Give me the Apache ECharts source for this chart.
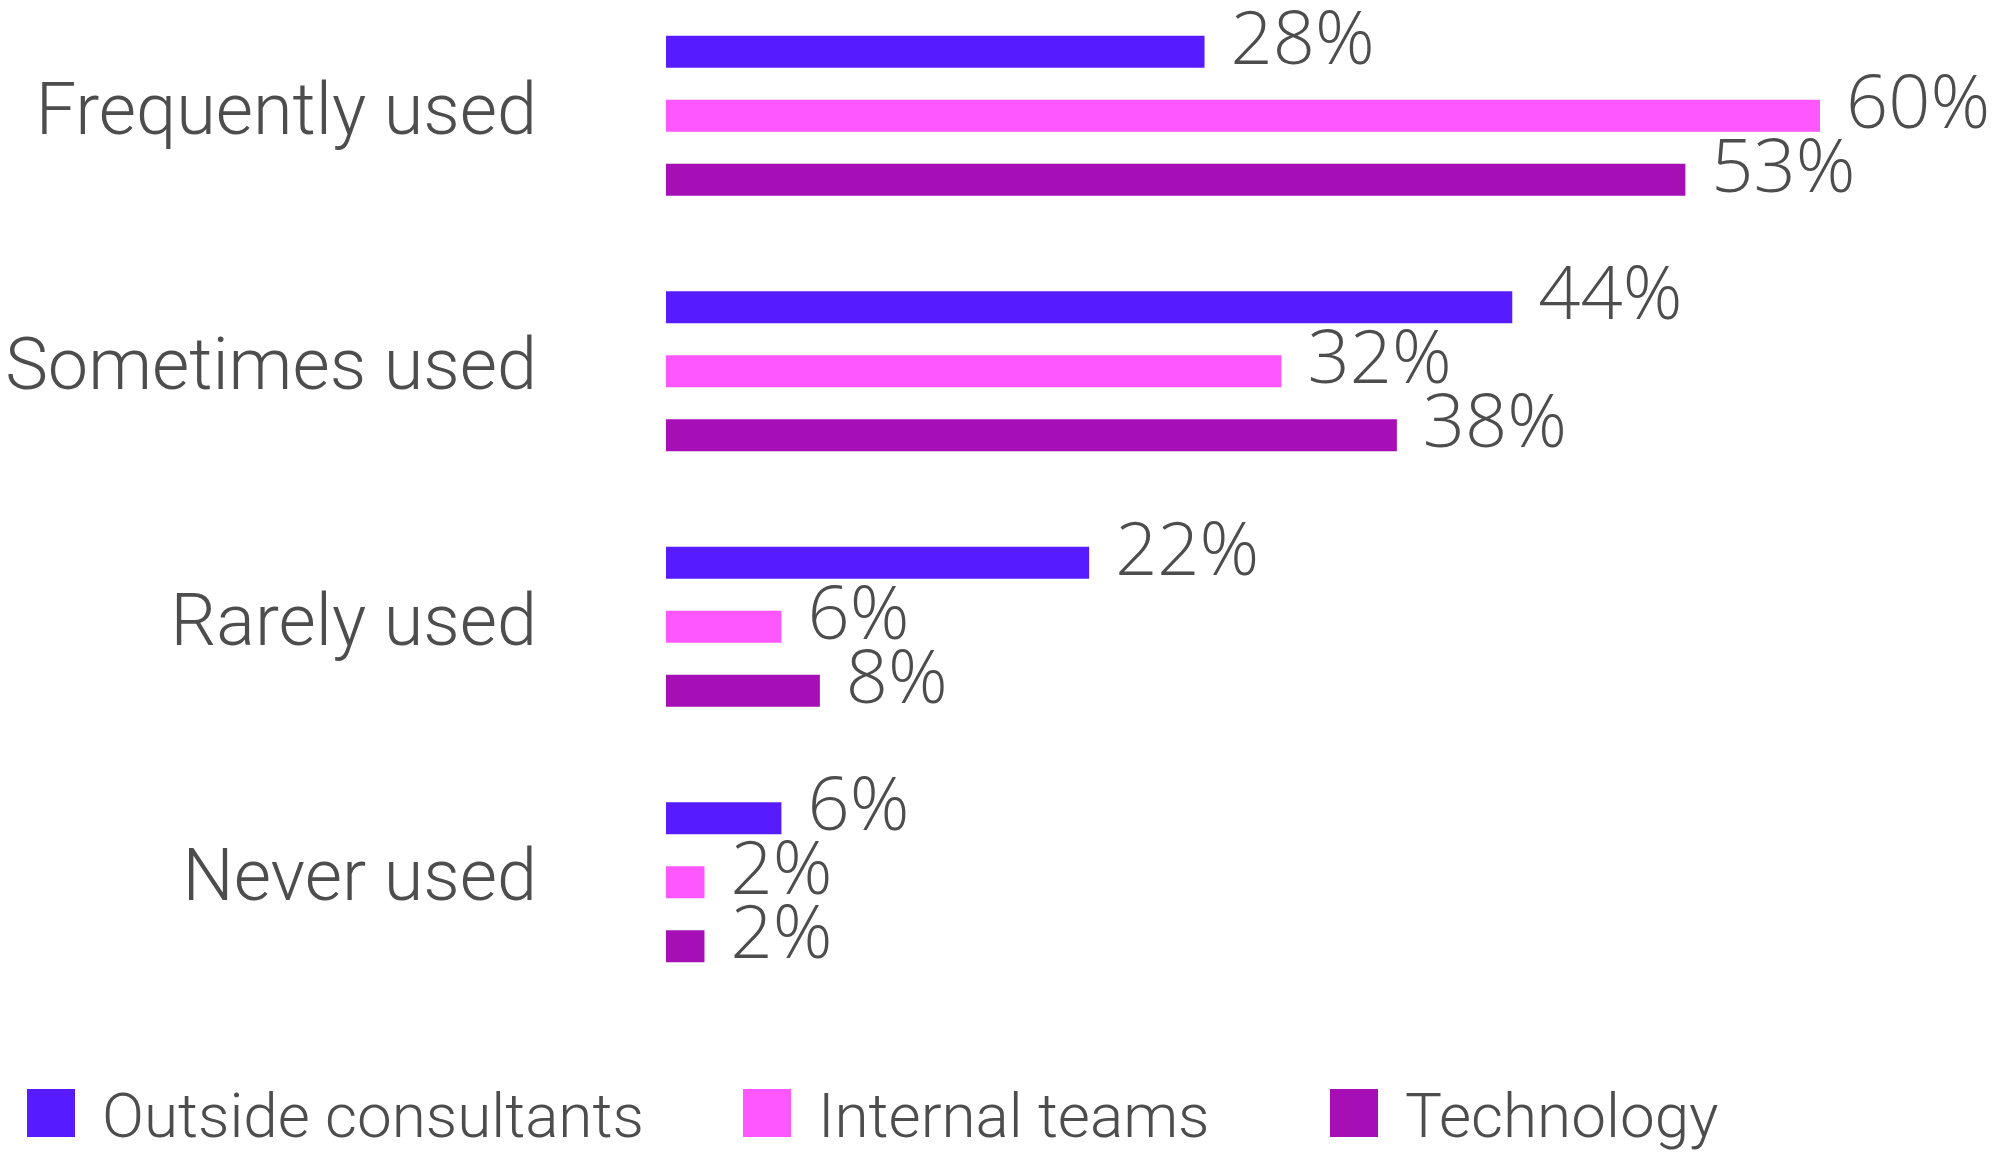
<!DOCTYPE html>
<html>
<head>
<meta charset="utf-8">
<script src="https://cdn.jsdelivr.net/npm/echarts@6/dist/echarts.min.js"></script>
<style>
  html, body { margin: 0; padding: 0; background: #fff; }
  #chart { width: 1998px; height: 1153px; }
</style>
</head>
<body>
<div id="chart"></div>
<script>
var categories = ['Frequently used', 'Sometimes used', 'Rarely used', 'Never used']
var seriesNames = ['Outside consultants', 'Internal teams', 'Technology']
var outsideConsultants = [28, 44, 22, 6]
var internalTeams = [60, 32, 6, 2]
var technology = [53, 38, 8, 2]
var colorList = ['#561cff', '#ff57ff', '#a60fb5']

var textColor = '#4d4d4d'
var fontFamily = 'Roboto'

function barSeries (name, data) {
  return {
    name: name,
    type: 'bar',
    barWidth: 32,
    barGap: '100%',
    data: data,
    label: {
      show: true,
      position: 'right',
      distance: 26,
      offset: [0, -9],
      formatter: '{c}%',
      color: textColor,
      fontFamily: '"Open Sans"',
      fontWeight: 300,
      fontSize: 74
    }
  }
}

function legendAt (name, left) {
  return {
    data: [name],
    left: left,
    top: 1082,
    icon: 'rect',
    itemWidth: 48,
    itemHeight: 48,
    padding: 0,
    // push the label down a bit so its baseline sits level with the square
    formatter: '{t|{name}}{p|}',
    textStyle: {
      color: textColor,
      fontFamily: fontFamily,
      fontWeight: 300,
      fontSize: 62,
      padding: [0, 0, 0, 22],
      rich: {
        t: {
          color: textColor,
          fontFamily: fontFamily,
          fontWeight: 300,
          fontSize: 62,
          verticalAlign: 'bottom'
        },
        p: {
          width: 1,
          height: 79
        }
      }
    }
  }
}

var chart = echarts.init(document.getElementById('chart'))
var options = {
  animation: false,
  color: colorList,
  legend: [
    legendAt(seriesNames[0], 27),
    legendAt(seriesNames[1], 743),
    legendAt(seriesNames[2], 1330)
  ],
  grid: {
    left: 666,
    top: -12,
    width: 1154,
    height: 1022,
    containLabel: false,
    outerBoundsMode: 'none'
  },
  xAxis: {
    type: 'value',
    min: 0,
    max: 60,
    show: false
  },
  yAxis: {
    type: 'category',
    inverse: true,
    data: categories,
    axisLine: { show: false },
    axisTick: { show: false },
    splitLine: { show: false },
    axisLabel: {
      margin: 129,
      padding: [0, 0, 30, 0],
      color: textColor,
      fontFamily: fontFamily,
      fontWeight: 300,
      fontSize: 72
    }
  },
  series: [
    barSeries(seriesNames[0], outsideConsultants),
    barSeries(seriesNames[1], internalTeams),
    barSeries(seriesNames[2], technology)
  ]
}
chart.setOption(options)
</script>
</body>
</html>
